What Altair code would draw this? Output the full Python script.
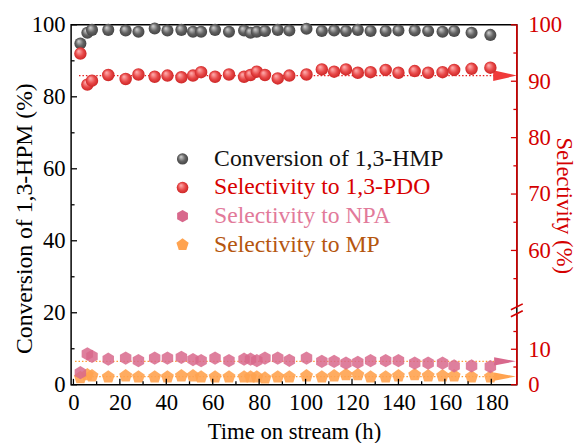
import altair as alt
import pandas as pd

# ---------------- data ----------------
time_h = [3, 6, 8, 15, 22.5, 28, 35, 40.5, 46.5, 51.5, 55, 61, 67, 73.5, 76.3, 79, 82.5, 88, 93,
          100.4, 107, 112.3, 117.4, 122.5, 128, 134.5, 140, 147, 152.8, 159, 164, 171.5, 179.6]
conversion = [94.8, 97.8, 98.6, 98.6, 98.4, 98.1, 99.0, 98.4, 98.6, 98.1, 98.1, 98.6, 98.1, 98.4,
              97.8, 98.1, 98.3, 98.6, 98.4, 98.9, 98.3, 98.4, 98.3, 98.6, 98.3, 98.3, 98.4, 98.4,
              98.3, 98.1, 98.3, 97.8, 97.2]
sel_pdo = [94.9, 89.4, 90.1, 91.1, 90.4, 91.2, 90.8, 91.0, 90.7, 91.0, 91.6, 90.8, 91.2, 90.8,
           91.1, 91.7, 91.1, 90.5, 91.0, 91.2, 92.1, 91.7, 92.1, 91.5, 91.6, 92.0, 91.5, 91.8,
           91.5, 91.6, 92.0, 92.2, 92.4]
sel_npa = [3.4, 8.7, 8.0, 7.2, 7.5, 6.8, 7.5, 7.5, 7.7, 7.1, 6.8, 7.5, 6.8, 7.2, 7.2, 6.8, 7.5,
           7.5, 6.9, 7.5, 6.6, 6.6, 6.1, 6.3, 6.8, 6.8, 6.8, 6.1, 6.1, 6.1, 5.3, 5.3, 5.1]
sel_mp = [2.0, 2.8, 2.5, 2.2, 2.5, 2.2, 2.2, 2.2, 2.5, 2.5, 2.2, 2.2, 2.2, 2.2, 2.2, 2.2, 1.9,
          2.2, 2.2, 2.5, 2.2, 2.5, 2.8, 2.8, 2.2, 2.2, 2.5, 2.8, 2.5, 2.5, 2.5, 2.2, 2.2]

avg_pdo = [91.0]
avg_npa = [6.6]
avg_mp = [2.3]

x_major = [0, 20, 40, 60, 80, 100, 120, 140, 160, 180]
x_minor = [10, 30, 50, 70, 90, 110, 130, 150, 170]
left_major = [0, 20, 40, 60, 80, 100]
left_minor = [10, 30, 50, 70, 90]
right_major = [0, 10, 60, 70, 80, 90, 100]
right_minor = [5, 15, 55, 65, 75, 85, 95]
right_domain = [0, 20, 50, 100]          # broken selectivity axis
right_segments_lo = [0, 50]
right_segments_hi = [20, 100]

legend_labels = ["Conversion of 1,3-HMP", "Selectivity to 1,3-PDO",
                 "Selectivity to NPA", "Selectivity to MP"]
legend_colors = ["#111111", "#d80000", "#e27a9a", "#b5560f"]

# ---------------- styling ----------------
FONT = "Liberation Serif"
FS = 23
W, H = 452, 365
RED = "#d40000"
PINK = "#d8688c"
ORANGE = "#ffa350"

HEX = "M0,-1L0.866,-0.5L0.866,0.5L0,1L-0.866,0.5L-0.866,-0.5Z"
PENT = "M0,-1L0.951,-0.309L0.588,0.809L-0.588,0.809L-0.951,-0.309Z"
ARROW = "M-1,-0.38L1,0L-1,0.38Z"
ARROW_BIG = "M-1,-0.45L1,0L-1,0.45Z"

gray_grad = alt.RadialGradient(
    gradient="radial", x1=0.35, y1=0.3, r1=0.02, x2=0.5, y2=0.5, r2=0.55,
    stops=[alt.GradientStop(offset=0, color="#d0d0d0"),
           alt.GradientStop(offset=0.55, color="#626262"),
           alt.GradientStop(offset=1, color="#404040")])
red_grad = alt.RadialGradient(
    gradient="radial", x1=0.35, y1=0.3, r1=0.02, x2=0.5, y2=0.5, r2=0.55,
    stops=[alt.GradientStop(offset=0, color="#ffb0b0"),
           alt.GradientStop(offset=0.55, color="#e84848"),
           alt.GradientStop(offset=1, color="#c82020")])

x_scale = alt.Scale(domain=[-1, 191], nice=False, zero=False)
yl_scale = alt.Scale(domain=[0, 100], nice=False)
yr_scale = alt.Scale(domain=right_domain, range=[H, 293, 286, 0], nice=False, zero=False)

x_axis = alt.Axis(orient="bottom", values=x_major, ticks=False, domain=False, grid=False,
                  labelFont=FONT, labelFontSize=FS, labelColor="black", labelPadding=7,
                  labelFlush=False,
                  title="Time on stream (h)", titleFont=FONT, titleFontSize=FS,
                  titleFontWeight="normal", titleColor="black", titlePadding=6)
left_axis = alt.Axis(orient="left", values=left_major, ticks=False, domain=False, grid=False,
                     labelFont=FONT, labelFontSize=FS, labelColor="black", labelPadding=6,
                     labelFlush=False,
                     title="Conversion of 1,3-HPM (%)", titleFont=FONT, titleFontSize=24,
                     titleFontWeight="normal", titleColor="black",
                     titleAngle=270, titleBaseline="alphabetic", titleAlign="center",
                     titleX=-40, titleY=196)
right_axis = alt.Axis(orient="right", values=right_major, ticks=False, domain=False, grid=False,
                      labelFont=FONT, labelFontSize=FS, labelColor=RED, labelPadding=11,
                      labelFlush=False,
                      title="Selectivity (%)", titleFont=FONT, titleFontSize=23,
                      titleFontWeight="normal", titleColor=RED,
                      titleAngle=90, titleBaseline="alphabetic", titleAlign="center",
                      titleX=40, titleY=183)

def XQ(field):
    return alt.X(field, type="quantitative", scale=x_scale, axis=x_axis)

def YL(field):
    return alt.Y(field, type="quantitative", scale=yl_scale, axis=left_axis)

def YR(field):
    return alt.Y(field, type="quantitative", scale=yr_scale, axis=right_axis)

df = pd.DataFrame({"t": time_h, "conv": conversion, "pdo": sel_pdo,
                   "npa": sel_npa, "mp": sel_mp})

# ---------------- left (conversion) group ----------------
conv_layer = alt.Chart(df).mark_point(
    shape="circle", filled=True, fill=gray_grad, opacity=1, size=150, strokeWidth=0
).encode(x=XQ("t"), y=YL("conv"))

lt_major = alt.Chart(pd.DataFrame({"v": left_major})).mark_rule(color="black", strokeWidth=1.3).encode(
    y=YL("v"), x=alt.value(0), x2=alt.value(6))
lt_minor = alt.Chart(pd.DataFrame({"v": left_minor})).mark_rule(color="black", strokeWidth=1.3).encode(
    y=YL("v"), x=alt.value(0), x2=alt.value(3.5))

left_group = alt.layer(lt_major, lt_minor, conv_layer)

# ---------------- right (selectivity) group ----------------
def level_line(vals, color, start):
    return alt.Chart(pd.DataFrame({"v": vals})).mark_rule(
        color=color, strokeWidth=1.3, strokeDash=[1.5, 2]
    ).encode(y=YR("v"), x=alt.value(start), x2=alt.value(430))

def arrow(vals, color, shape, size):
    return alt.Chart(pd.DataFrame({"v": vals})).mark_point(
        shape=shape, filled=True, color=color, opacity=1, size=size, strokeWidth=0
    ).encode(y=YR("v"), x=alt.value(440))

pdo_layer = alt.Chart(df).mark_point(
    shape="circle", filled=True, fill=red_grad, opacity=1, size=160, strokeWidth=0
).encode(x=XQ("t"), y=YR("pdo"))
npa_layer = alt.Chart(df).mark_point(
    shape=HEX, filled=True, color=PINK, opacity=0.85, size=180, strokeWidth=0
).encode(x=XQ("t"), y=YR("npa"))
mp_layer = alt.Chart(df).mark_point(
    shape=PENT, filled=True, color=ORANGE, opacity=0.9, size=190, strokeWidth=0
).encode(x=XQ("t"), y=YR("mp"))

rt_major = alt.Chart(pd.DataFrame({"v": right_major})).mark_rule(color=RED, strokeWidth=1.3).encode(
    y=YR("v"), x=alt.value(W), x2=alt.value(W - 6))
rt_minor = alt.Chart(pd.DataFrame({"v": right_minor})).mark_rule(color=RED, strokeWidth=1.3).encode(
    y=YR("v"), x=alt.value(W), x2=alt.value(W - 3.5))
r_domain = alt.Chart(pd.DataFrame({"lo": right_segments_lo, "hi": right_segments_hi})).mark_rule(
    color=RED, strokeWidth=1.6).encode(y=YR("lo"), y2="hi:Q", x=alt.value(W))

right_group = alt.layer(
    level_line(avg_pdo, "#e82020", 8), level_line(avg_npa, "#ff9a30", 4),
    level_line(avg_mp, "#ff9a30", 4),
    arrow(avg_pdo, "#f03a3a", ARROW_BIG, 576), arrow(avg_npa, PINK, ARROW, 484),
    arrow(avg_mp, ORANGE, ARROW, 484),
    mp_layer, npa_layer, pdo_layer,
    rt_major, rt_minor, r_domain)

# ---------------- x ticks, break marks, legend ----------------
one = pd.DataFrame({"a": [0]})
xt_major = alt.Chart(pd.DataFrame({"v": x_major})).mark_rule(color="black", strokeWidth=1.3).encode(
    x=XQ("v"), y=alt.value(H), y2=alt.value(H - 6))
xt_minor = alt.Chart(pd.DataFrame({"v": x_minor})).mark_rule(color="black", strokeWidth=1.3).encode(
    x=XQ("v"), y=alt.value(H), y2=alt.value(H - 3.5))

brk1 = alt.Chart(one).mark_rule(color=RED, strokeWidth=1.6).encode(
    x=alt.value(446), y=alt.value(296), x2=alt.value(458), y2=alt.value(290))
brk2 = alt.Chart(one).mark_rule(color=RED, strokeWidth=1.6).encode(
    x=alt.value(446), y=alt.value(289), x2=alt.value(458), y2=alt.value(283))

leg_layers = []
sym_specs = [
    dict(shape="circle", fill=gray_grad, size=130),
    dict(shape="circle", fill=red_grad, size=140),
    dict(shape=HEX, fill=PINK, size=160),
    dict(shape=PENT, fill=ORANGE, size=170),
]
for i, (lab, col, spec) in enumerate(zip(legend_labels, legend_colors, sym_specs)):
    ypix = 136 + 29 * i
    leg_layers.append(alt.Chart(one).mark_point(
        shape=spec["shape"], filled=True, fill=spec["fill"], opacity=1, size=spec["size"],
        strokeWidth=0).encode(x=alt.value(113), y=alt.value(ypix)))
    leg_layers.append(alt.Chart(one).mark_text(
        align="left", baseline="middle", font=FONT, fontSize=24, color=col, text=lab
    ).encode(x=alt.value(145), y=alt.value(ypix)))

chart = alt.layer(
    left_group, right_group, xt_major, xt_minor, brk1, brk2, *leg_layers
).resolve_scale(y="independent").properties(
    width=W, height=H,
    autosize=alt.AutoSizeParams(type="none"),
    padding={"left": 64, "top": 14, "right": 60, "bottom": 56},
).configure_view(stroke="black", strokeWidth=1.5)

chart.save("out.html", embed_options={"renderer": "svg", "actions": False})
